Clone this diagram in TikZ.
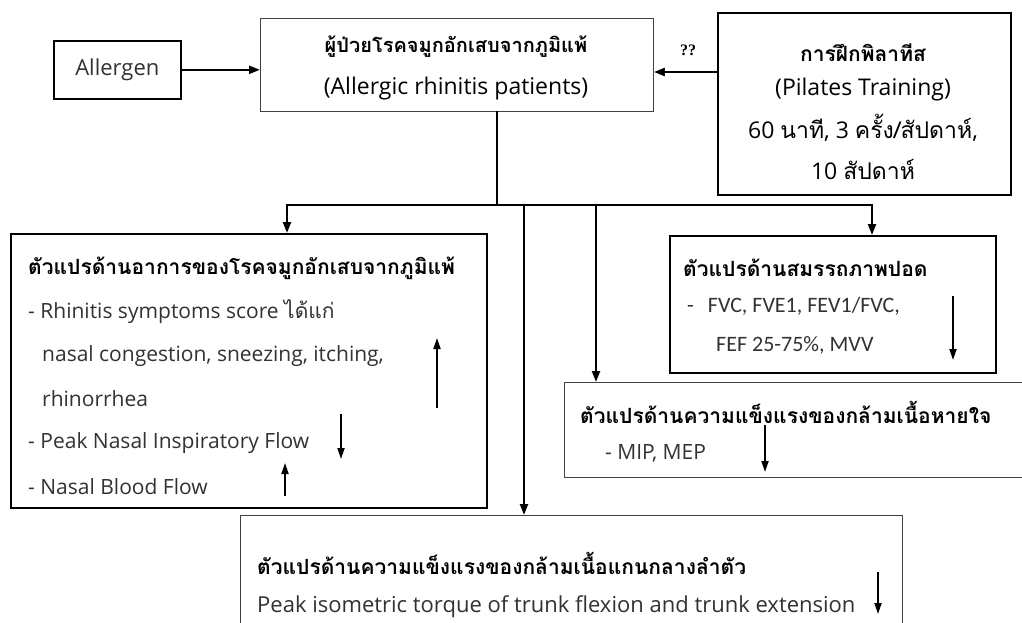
\documentclass[tikz,border=0pt]{standalone}
\usepackage{fontspec}
\setmainfont{Open Sans}
\newfontfamily\thai[Script=Thai]{Loma}
\newfontfamily\qfont{Liberation Serif}
\newfontfamily\calib{Carlito}
\usetikzlibrary{arrows.meta}
\definecolor{txtgray}{RGB}{50,50,50}
\tikzset{
  thickbox/.style={draw=black, line width=1.6pt, inner sep=0pt},
  thinbox/.style={draw=black!75, line width=0.9pt, inner sep=0pt},
  conn/.style={line width=2.2pt, line cap=rect},
  arr/.style={line width=2.2pt, -{Triangle[length=11pt,width=8pt]}},
  marker/.style={line width=1.8pt, -{Triangle[length=11pt,width=7pt]}},
  txt/.style={anchor=west, inner sep=0pt, text=txtgray, font=\fontsize{21}{24}\selectfont},
  btxt/.style={anchor=west, inner sep=0pt, text=black, font=\fontsize{21}{24}\selectfont\thai\bfseries},
  ctxt/.style={anchor=center, inner sep=0pt, text=black, font=\fontsize{23}{26}\selectfont},
}
\begin{document}
\begin{tikzpicture}[x=1pt,y=-1pt]
\clip (0,0) rectangle (1022,623);
\fill[white] (0,0) rectangle (1022,623);

% boxes
\node[thickbox, anchor=north west, minimum width=127pt, minimum height=58pt] (allergen) at (53,40) {};
\node[txt, anchor=center, font=\fontsize{22}{24}\selectfont] (allergentxt) at (allergen.center) {Allergen};
\node[thinbox, anchor=north west, minimum width=393pt, minimum height=93pt] (main) at (260,18) {};
\node[thickbox, anchor=north west, minimum width=293pt, minimum height=182pt] (pil) at (717,12) {};
\node[thickbox, anchor=north west, minimum width=476pt, minimum height=274pt] (left) at (10,233) {};
\node[thickbox, anchor=north west, minimum width=326pt, minimum height=137pt] (lung) at (669,235) {};
\node[thinbox, anchor=north west, minimum width=470pt, minimum height=95pt] (resp) at (564,382) {};
\node[thinbox, anchor=north west, minimum width=662pt, minimum height=130pt] (core) at (240,515) {};

% main box text
\node[ctxt] (m1) at (456,47) {\thai\bfseries\fontsize{20}{24}\selectfont ผู้ป่วยโรคจมูกอักเสบจากภูมิแพ้};
\node[ctxt] (m2) at (456,89) {(Allergic rhinitis patients)};

% pilates text
\node[ctxt] (p1) at (863,53) {\thai\bfseries\fontsize{21}{24}\selectfont การฝึกพิลาทีส};
\node[ctxt] (p2) at (863,90) {(Pilates Training)};
\node[ctxt] (p3) at (863,128) {60 {\thai นาที}, 3 {\thai ครั้ง/สัปดาห์},};
\node[ctxt] (p4) at (863,170) {10 {\thai สัปดาห์}};

% question marks
\node[inner sep=0pt, font=\qfont\bfseries\fontsize{16}{18}\selectfont] (qq) at (688,50) {??};

% left box text
\node[btxt] (l1) at (28,268) {ตัวแปรด้านอาการของโรคจมูกอักเสบจากภูมิแพ้};
\node[txt] (l2) at (28,312) {- Rhinitis symptoms score {\thai ได้แก่}};
\node[txt] (l3) at (42,356) {nasal congestion, sneezing, itching,};
\node[txt] (l4) at (42,399) {rhinorrhea};
\node[txt] (l5) at (28,443) {- Peak Nasal Inspiratory Flow};
\node[txt] (l6) at (28,487) {- Nasal Blood Flow};

% lung box text
\node[btxt] (g1) at (683,268) {ตัวแปรด้านสมรรถภาพปอด};
\node[txt, font=\calib\fontsize{22}{24}\selectfont] (g2) at (687,306) {-\hspace{14pt}FVC, FVE1, FEV1/FVC,};
\node[txt, font=\calib\fontsize{22}{24}\selectfont] (g3) at (716,345) {FEF 25-75\%, MVV};

% resp box text
\node[btxt] (r1) at (580,412) {ตัวแปรด้านความแข็งแรงของกล้ามเนื้อหายใจ};
\node[txt] (r2) at (605,453) {- MIP, MEP};

% core box text
\node[btxt] (c1) at (257,563) {ตัวแปรด้านความแข็งแรงของกล้ามเนื้อแกนกลางลำตัว};
\node[txt, font=\fontsize{22}{24}\selectfont] (c2) at (257,607) {Peak isometric torque of trunk flexion and trunk extension};

% connectors
\draw[arr] (allergen.east) -- (allergen.east -| main.west);
\coordinate (pa) at (717,72);
\draw[arr] (pa) -- (pa -| main.east);

\coordinate (trunk) at (497,205);
\coordinate (hl) at (287,205);
\coordinate (hr) at (872,205);
\coordinate (b1) at (524,205);
\coordinate (b2) at (596,205);
\draw[conn] (main.south -| trunk) -- (trunk);
\draw[conn, line cap=butt] ([xshift=-1.1pt]hl) -- ([xshift=1.1pt]hr);
\draw[arr] (hl) -- (left.north -| hl);
\draw[arr] (b1) -- (core.north -| b1);
\draw[arr] (b2) -- (resp.north -| b2);
\draw[arr] (hr) -- (lung.north -| hr);

% indicator arrows
\coordinate (u1a) at (437,408); \coordinate (u1b) at (437,338);
\draw[marker] (u1a) -- (u1b);
\coordinate (d1a) at (341,414); \coordinate (d1b) at (341,459);
\draw[marker] (d1a) -- (d1b);
\coordinate (u2a) at (285,496); \coordinate (u2b) at (285,463);
\draw[marker] (u2a) -- (u2b);
\coordinate (d2a) at (953,296); \coordinate (d2b) at (953,360);
\draw[marker] (d2a) -- (d2b);
\coordinate (d3a) at (765,425); \coordinate (d3b) at (765,472);
\draw[marker] (d3a) -- (d3b);
\coordinate (d4a) at (878,572); \coordinate (d4b) at (878,614);
\draw[marker] (d4a) -- (d4b);
\end{tikzpicture}
\end{document}
